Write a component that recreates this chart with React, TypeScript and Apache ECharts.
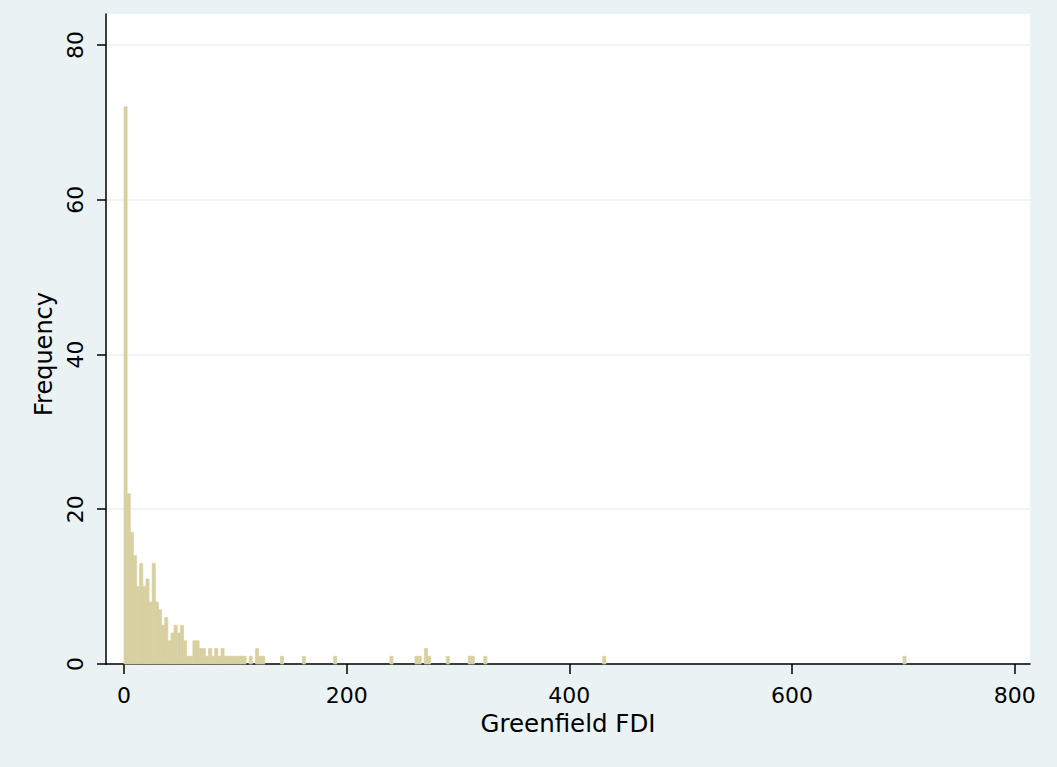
import React, { useEffect, useRef } from "react";
import * as echarts from "echarts";

// Histogram of Greenfield FDI: bins of equal width starting at 0
const binWidth = 2.81;
const binStart = 0;
// bin number (0-based) and its frequency
const binIndex = [
  0, 1, 2, 3, 4, 5, 6, 7, 8, 9, 10, 11, 12, 13, 14, 15, 16, 17, 18, 19,
  20, 21, 22, 23, 24, 25, 26, 27, 28, 29, 30, 31, 32, 33, 34, 35, 36, 37, 38,
  40, 42, 43, 44, 50, 57, 67, 85, 93, 94, 96, 97, 103, 110, 111, 115, 153, 249,
];
const frequency = [
  72, 22, 17, 14, 10, 13, 10, 11, 8, 13, 8, 7, 5, 6, 3, 4, 5, 4, 5, 3,
  1, 1, 3, 3, 2, 2, 1, 2, 1, 2, 1, 2, 1, 1, 1, 1, 1, 1, 1,
  1, 2, 1, 1, 1, 1, 1, 1, 1, 1, 2, 1, 1, 1, 1, 1, 1, 1,
];
const xTicks = [0, 200, 400, 600, 800];
const yTicks = [0, 20, 40, 60, 80];
const xTitle = "Greenfield FDI";
const yTitle = "Frequency";

const BG = "#EAF2F3";
const BAR = "#D8D0A0";
const FONT = "DejaVu Sans";

export default function App() {
  const ref = useRef<HTMLDivElement>(null);
  useEffect(() => {
    if (!ref.current) return;
    const chart = echarts.init(ref.current, undefined, { renderer: "svg" });
    const data = binIndex.map((b, i) => [binStart + b * binWidth, frequency[i]]);
    chart.setOption({
      animation: false,
      backgroundColor: BG,
      grid: {
        left: 106,
        right: 27,
        top: 14,
        bottom: 103,
        show: true,
        backgroundColor: "#FFFFFF",
        borderWidth: 0,
      },
      xAxis: {
        type: "value",
        min: -16.2,
        max: 813.8,
        name: xTitle,
        nameLocation: "middle",
        nameGap: 44,
        nameTextStyle: { fontFamily: FONT, fontSize: 24.5, color: "#000" },
        axisLine: { show: true, onZero: false, lineStyle: { color: "#000", width: 1.5 } },
        axisTick: { show: true, length: 10, customValues: xTicks, lineStyle: { color: "#000", width: 1.5 } },
        axisLabel: { customValues: xTicks, margin: 20, fontFamily: FONT, fontSize: 22, color: "#000" },
        splitLine: { show: false },
      },
      yAxis: {
        type: "value",
        min: 0,
        max: 84,
        interval: 20,
        name: yTitle,
        nameLocation: "middle",
        nameGap: 48,
        nameRotate: 90,
        nameTextStyle: { fontFamily: FONT, fontSize: 24, color: "#000", padding: [0, 30, 0, 0] },
        axisLine: { show: true, onZero: false, lineStyle: { color: "#000", width: 1.5 } },
        axisTick: { show: true, length: 9, customValues: yTicks, lineStyle: { color: "#000", width: 1.5 } },
        axisLabel: { customValues: yTicks, rotate: 90, margin: 20, fontFamily: FONT, fontSize: 22, color: "#000" },
        splitLine: { show: true, lineStyle: { color: BG, width: 1.5 } },
      },
      series: [
        {
          type: "custom",
          data,
          renderItem: (params: any, api: any) => {
            const x0 = api.value(0);
            const v = api.value(1);
            const p0 = api.coord([x0, 0]);
            const p1 = api.coord([x0 + binWidth, v]);
            return {
              type: "rect",
              shape: { x: p0[0], y: p1[1], width: p1[0] - p0[0], height: p0[1] - p1[1] },
              style: { fill: BAR, stroke: BAR, lineWidth: 0.7 },
            };
          },
        },
      ],
    });
    return () => chart.dispose();
  }, []);
  return (
    <div
      ref={ref}
      style={{ position: "fixed", left: 0, top: 0, width: 1057, height: 767 }}
    />
  );
}
